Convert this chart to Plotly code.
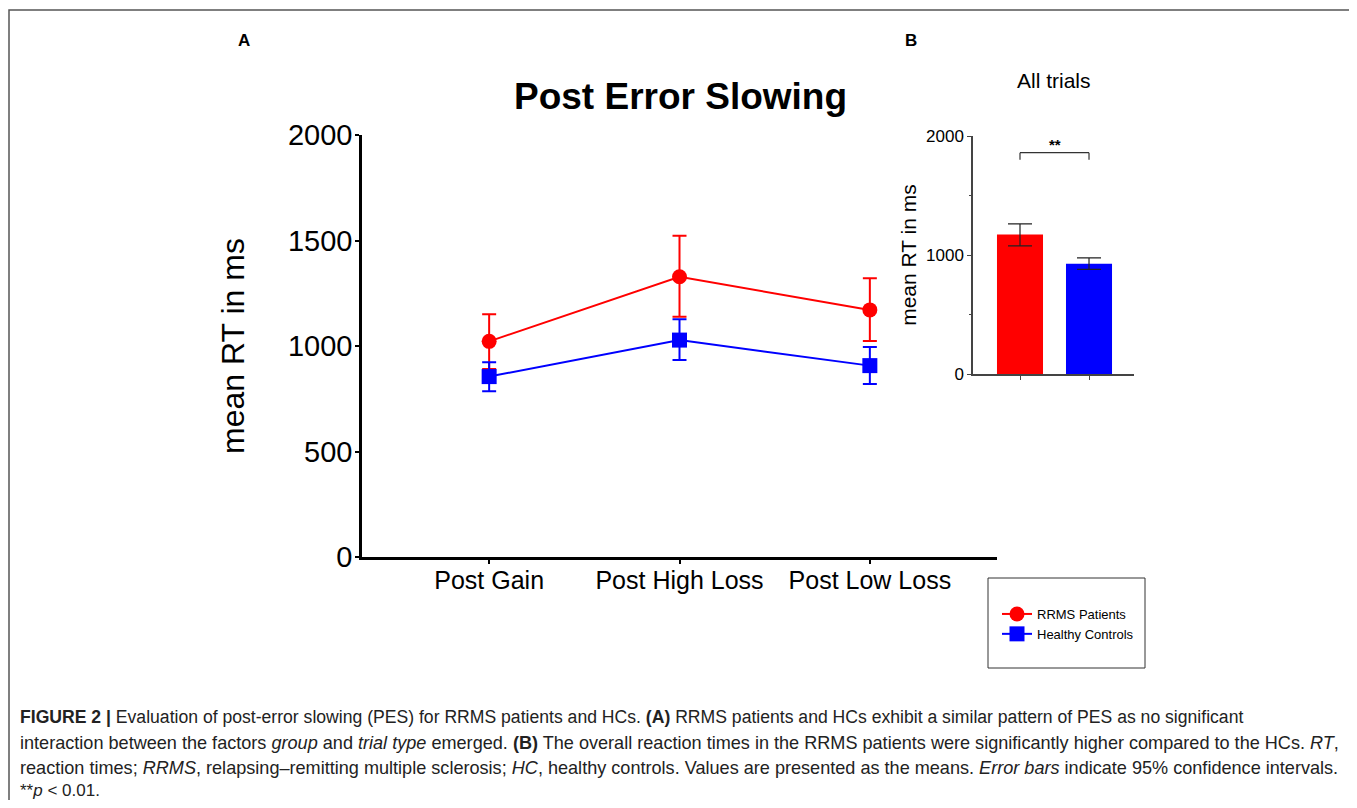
import plotly.graph_objects as go

# page body margin of the browser is 8px; the figure is sized so it fits the window
OFF = 8
W, H = 1357 - OFF, 808 - 2 * OFF

# ---------- data ----------
trial_types = ["Post Gain", "Post High Loss", "Post Low Loss"]
rrms_mean = [1022, 1328, 1171]
rrms_ci_hi = [1150, 1523, 1321]
rrms_ci_lo = [891, 1139, 1024]
hc_mean = [855, 1028, 907]
hc_ci_hi = [923, 1127, 995]
hc_ci_lo = [785, 934, 820]

groups = ["RRMS Patients", "Healthy Controls"]
all_mean = [1172, 926]
all_ci_hi = [1262, 976]
all_ci_lo = [1077, 879]
sig_level = 1860
sig_label = "**"

yticks_a = [0, 500, 1000, 1500, 2000]
yticks_b = [0, 1000, 2000]

RED = "#ff0000"
BLUE = "#0000ff"
FONT = "Liberation Sans, Arial, sans-serif"


def px_x(p):
    return (p - OFF) / W


def px_y(p):
    return 1 - (p - OFF) / H


fig = go.Figure()

# Panel A
for name, mean, hi, lo, col, sym in [
    (groups[0], rrms_mean, rrms_ci_hi, rrms_ci_lo, RED, "circle"),
    (groups[1], hc_mean, hc_ci_hi, hc_ci_lo, BLUE, "square"),
]:
    fig.add_trace(go.Scatter(
        x=trial_types, y=mean, name=name, mode="lines+markers",
        line=dict(color=col, width=2),
        marker=dict(color=col, size=15, symbol=sym),
        error_y=dict(type="data", symmetric=False,
                     array=[h - m for h, m in zip(hi, mean)],
                     arrayminus=[m - l for m, l in zip(mean, lo)],
                     color=col, thickness=2, width=7),
        xaxis="x", yaxis="y",
    ))

# Panel B
fig.add_trace(go.Bar(
    x=groups, y=all_mean, width=0.667,
    marker=dict(color=[RED, BLUE], line=dict(width=0)),
    error_y=dict(type="data", symmetric=False,
                 array=[h - m for h, m in zip(all_ci_hi, all_mean)],
                 arrayminus=[m - l for m, l in zip(all_mean, all_ci_lo)],
                 color="#222", thickness=1.2, width=12),
    showlegend=False, xaxis="x2", yaxis="y2",
))

fig.update_layout(
    width=W, height=H,
    margin=dict(l=0, r=0, t=0, b=0, pad=0, autoexpand=False),
    paper_bgcolor="white", plot_bgcolor="rgba(0,0,0,0)",
    font=dict(family=FONT, color="black"),
    showlegend=True,
    legend=dict(x=px_x(997), y=px_y(599), xanchor="left", yanchor="top",
                font=dict(size=13, family=FONT), bgcolor="rgba(0,0,0,0)",
                borderwidth=0, tracegroupgap=0, itemwidth=30),
    xaxis=dict(domain=[px_x(362), px_x(997)], range=[-0.668, 2.668],
               showline=True, linecolor="black", linewidth=2.5,
               ticks="outside", ticklen=4, tickwidth=1.5, tickcolor="black",
               tickfont=dict(size=25), showgrid=False, zeroline=False,
               anchor="y", fixedrange=True, automargin=False,
               ticklabelstandoff=-5),
    yaxis=dict(domain=[px_y(557), px_y(135)], range=[0, 2000],
               tickvals=yticks_a, showline=True, linecolor="black",
               linewidth=2.5, ticks="outside", ticklen=4, tickwidth=1.5,
               tickcolor="black", tickfont=dict(size=29), showgrid=False,
               zeroline=False, anchor="x", automargin=False,
               ticklabelstandoff=-3,
               title=dict(text="mean RT in ms", font=dict(size=32), standoff=34)),
    xaxis2=dict(domain=[px_x(973), px_x(1134)], range=[-0.681, 1.652],
                showline=True, linecolor="#444", linewidth=1.5,
                ticks="outside", ticklen=4, tickcolor="#444", showticklabels=False,
                showgrid=False, zeroline=False, anchor="y2", fixedrange=True,
                automargin=False),
    yaxis2=dict(domain=[px_y(374), px_y(136)], range=[0, 2000],
                tickvals=yticks_b, showline=True, linecolor="#444", linewidth=1.5,
                ticks="outside", ticklen=4, tickcolor="#444",
                tickfont=dict(size=17), showgrid=False, zeroline=False,
                anchor="x2", automargin=False,
                minor=dict(ticks="outside", ticklen=2, dtick=500, tickcolor="#444"),
                title=dict(text="mean RT in ms", font=dict(size=21), standoff=4)),
)

# significance bracket on panel B
bracket_drop = 60
fig.add_shape(type="line", xref="x2", yref="y2", x0=groups[0], x1=groups[1],
              y0=sig_level, y1=sig_level, line=dict(color="#333", width=1.2))
for g in groups:
    fig.add_shape(type="line", xref="x2", yref="y2", x0=g, x1=g,
                  y0=sig_level - bracket_drop, y1=sig_level,
                  line=dict(color="#333", width=1.2))
fig.add_annotation(xref="x2", yref="y2", x=0.5, y=sig_level, text=f"<b>{sig_label}</b>",
                   showarrow=False, xanchor="center", yanchor="bottom",
                   font=dict(size=15), yshift=-2)

# titles & labels
for txt, xx, yy, fs in [
    ("<b>Post Error Slowing</b>", 680, 97, 37),
    ("All trials", 1054, 81, 21),
    ("<b>A</b>", 244, 41, 17),
    ("<b>B</b>", 911, 41, 17),
]:
    fig.add_annotation(xref="paper", yref="paper", x=px_x(xx), y=px_y(yy),
                       xanchor="center", yanchor="middle", text=txt,
                       showarrow=False, font=dict(size=fs))

# legend box
fig.add_shape(type="rect", xref="paper", yref="paper",
              x0=px_x(988), x1=px_x(1145), y0=px_y(668), y1=px_y(578),
              line=dict(color="#333", width=1))

# outer frame
fig.add_shape(type="rect", xref="paper", yref="paper",
              x0=px_x(9), x1=px_x(1355), y0=px_y(840), y1=px_y(10),
              line=dict(color="#555", width=1.5))

# caption
caption_lines = [
    "<b>FIGURE 2 |</b> Evaluation of post-error slowing (PES) for RRMS patients and HCs. <b>(A)</b> RRMS patients and HCs exhibit a similar pattern of PES as no significant",
    "interaction between the factors <i>group</i> and <i>trial type</i> emerged. <b>(B)</b> The overall reaction times in the RRMS patients were significantly higher compared to the HCs. <i>RT</i>,",
    "reaction times; <i>RRMS</i>, relapsing–remitting multiple sclerosis; <i>HC</i>, healthy controls. Values are presented as the means. <i>Error bars</i> indicate 95% confidence intervals.",
    "**<i>p</i> &lt; 0.01.",
]
caption_y = [717, 743, 768, 790]
caption_size = [17.6, 18.1, 18.1, 17]
for line, yy, fs in zip(caption_lines, caption_y, caption_size):
    fig.add_annotation(xref="paper", yref="paper", x=px_x(18), y=px_y(yy),
                       xanchor="left", yanchor="middle", text=line,
                       showarrow=False, align="left",
                       font=dict(size=fs, color="#222", family=FONT))

fig.write_html("out.html")
